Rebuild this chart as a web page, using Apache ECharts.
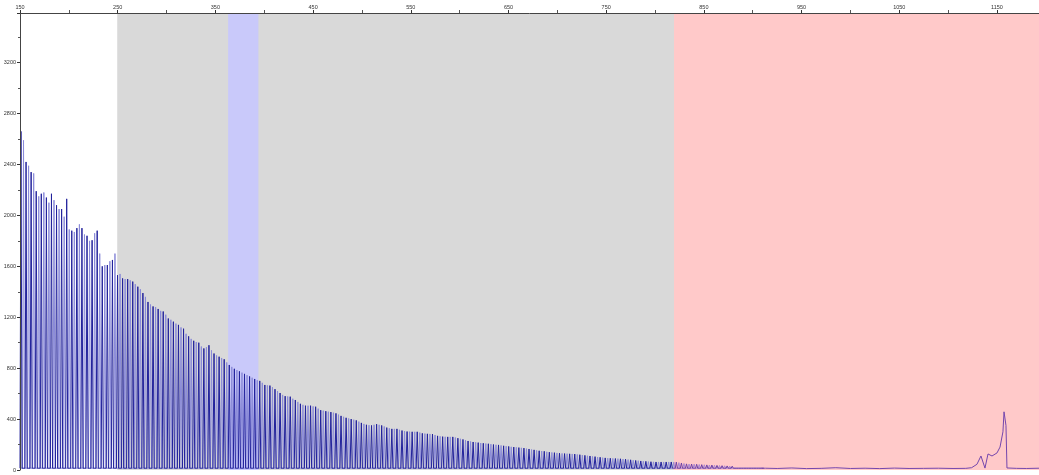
<!DOCTYPE html>
<html>
<head>
<meta charset="utf-8">
<script src="https://cdn.jsdelivr.net/npm/echarts@6/dist/echarts.min.js"></script>
<style>html,body{margin:0;padding:0;background:#fff}#c{width:1039px;height:475px}</style>
</head>
<body>
<div id="c"></div>
<script>
// ---- data ----
const peakStart = 151;      // size of first ladder peak
const peakStep = 5.2;       // ladder spacing (size units)
const baseLevel = 14;       // baseline signal
const darkPeaks = [2660,2420,2340,2190,2170,2140,2170,2080,2050,2130,1880,1900,1900,1840,1805,1880,1600,1610,1650,1530,
  1505,1500,1480,1440,1390,1320,1285,1265,1245,1190,1165,1140,1110,1050,1015,1000,955,980,915,890,
  870,825,795,775,755,735,715,700,668,663,635,605,580,576,550,520,505,505,497,470,
  462,455,445,425,410,400,390,370,355,350,360,350,333,323,323,310,302,300,300,288,
  284,282,268,262,260,260,250,240,228,220,215,210,206,200,197,190,185,180,176,172,
  165,158,151,147,140,136,132,129,127,125,120,115,110,105,100,95,92,90,88,85,
  80,75,71,68,65,63,63,63,63,62,55,48,47,45,42,40,39,36,34,32,30,27,25,22,20,17,15];
const lightPeaks = [2590,2390,2330,2150,2180,2100,2120,2050,1990,1890,1870,1930,1850,1800,1860,1700,1610,1640,1700,1540,
  1500,1490,1460,1420,1360,1300,1280,1250,1220,1180,1150,1120,1070,1030,1005,970,965,940,900,880,
  845,810,785,765,745,725,705,685,665,650,620,590,578,560,535,512,505,500,482,466,
  458,450,435,418,405,395,380,362,352,355,355,342,328,323,316,306,301,300,294,286,
  283,275,265,261,260,255,245,234,224,218,212,208,203,198,193,187,182,178,174,168,
  161,154,149,143,138,134,130,128,126,122,117,112,107,102,97,93,91,89,86,82,
  77,73,69,66,64,63,63,63,62,58,51,47,46,43,41,39,37,35,33,31,28,26,23,21,18,16];
const tailX = [913,925,940,955,970,985,1000,1015,1030,1045,1060,1075,1090,1105,1118,1124,1129.5,1133.6,1137.7,1140.8,1144.9,1150,1153.1,1156.1,1157.2,1159.2,1160.2,1170,1180,1193];
const tailY = [14,12,16,11,13,18,12,14,11,15,12,13,14,12,13,18,45,110,15,126,110,134,180,300,457,350,16,13,12,14];
const bandGray = [249.5, 819.4];
const bandBlue = [363, 394];
const bandPink = [819.4, 1193];
const xTicks = {min:150, max:1193, step:100};
const yTicks = {min:0, max:3590, step:400};

// ---- build series ----
const halfWidth = 1.1;
function ladder(peaks, start){
  const d = [[150, baseLevel]];
  for (let i = 0; i < peaks.length; i++) {
    const x = start + i * peakStep;
    d.push([x - halfWidth, baseLevel]);
    d.push([x, peaks[i]]);
    d.push([x + halfWidth, baseLevel]);
  }
  return d;
}
function splitAt(d, xs){
  const a = [], b = [];
  for (let i = 0; i < d.length; i++) {
    if (d[i][0] < xs) a.push(d[i]); else b.push(d[i]);
  }
  if (a.length && b.length) { b.unshift(a[a.length-1]); }
  return [a, b];
}
const darkData = ladder(darkPeaks, peakStart);
const lightData = ladder(lightPeaks, peakStart + peakStep/2);
const darkParts = splitAt(darkData, bandPink[0]);
const lightParts = splitAt(lightData, bandPink[0]);
const tailData = tailX.map((x,i)=>[x, tailY[i]]);
tailData.unshift([lightData[lightData.length-1][0], baseLevel]);

const chart = echarts.init(document.getElementById('c'), null, {renderer:'canvas'});
const lab = {fontSize:5.5, color:'#333', fontFamily:'Liberation Sans, Arial, sans-serif', formatter: v => String(v)};
function line(data, color, z){
  return {type:'line', data:data, symbol:'none', z:z, silent:true, lineStyle:{color:color, width:1}};
}
const tailSeries = line(tailData, '#7446ad', 2);
tailSeries.markArea = {silent:true, data:[
  [{xAxis:bandGray[0], itemStyle:{color:'#d9d9d9'}},{xAxis:bandGray[1]}],
  [{xAxis:bandBlue[0], itemStyle:{color:'#c9c9fa'}},{xAxis:bandBlue[1]}],
  [{xAxis:bandPink[0], itemStyle:{color:'#ffc9c9'}},{xAxis:bandPink[1]}]
]};
chart.setOption({
  animation:false,
  backgroundColor:'#ffffff',
  grid:{left:20, right:0, top:13, bottom:5},
  xAxis:{type:'value', position:'top', min:xTicks.min, max:xTicks.max, interval:xTicks.step, z:10,
    axisLine:{show:true, onZero:false, lineStyle:{color:'#444', width:1}},
    axisTick:{show:true, length:3, lineStyle:{color:'#333'}},
    minorTick:{show:true, splitNumber:2, length:3, lineStyle:{color:'#555'}},
    splitLine:{show:false},
    axisLabel:Object.assign({margin:3, showMaxLabel:false}, lab)},
  yAxis:{type:'value', min:yTicks.min, max:yTicks.max, interval:yTicks.step, z:10,
    axisLine:{show:true, onZero:false, lineStyle:{color:'#444', width:1}},
    axisTick:{show:true, length:3, lineStyle:{color:'#333'}},
    minorTick:{show:true, splitNumber:2, length:2, lineStyle:{color:'#555'}},
    splitLine:{show:false},
    axisLabel:Object.assign({margin:4, showMaxLabel:false}, lab)},
  series:[
    tailSeries,
    line(lightParts[0], '#8a8ad8', 3),
    line(lightParts[1], '#a886d2', 3),
    line(darkParts[0], '#22229c', 4),
    line(darkParts[1], '#6c3fa6', 4)
  ]
});
</script>
</body>
</html>
